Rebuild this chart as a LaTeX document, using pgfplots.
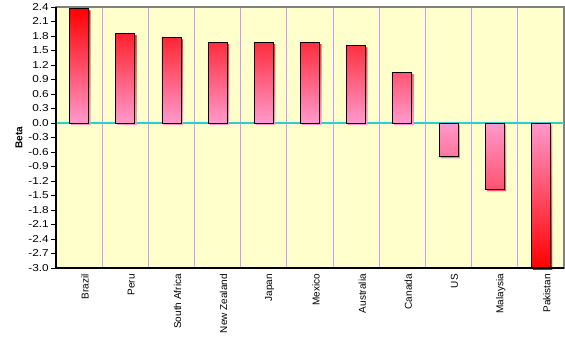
\documentclass[border=0pt]{standalone}
\usepackage{fontspec}
\setmainfont{Liberation Sans}
\newfontfamily\numfont{Liberation Sans}[FakeStretch=1.18]
\usepackage{pgfplots}
\pgfplotsset{compat=1.18}

\definecolor{plotbg}{HTML}{FFFFCC}
\definecolor{gridpurple}{HTML}{CC99FF}
\definecolor{zeroline}{HTML}{33CCCC}
\definecolor{barpink}{HTML}{FF99CC}
\definecolor{barred}{HTML}{FF0000}
\definecolor{frame}{HTML}{808080}
\definecolor{barshadow}{HTML}{A5A585}

\pgfplotsset{
  betabar/.style={ybar, bar width=19bp, bar shift=0pt, draw=black, line width=0.9pt,
    preaction={fill=barshadow, draw=none, transform canvas={shift={(1.8bp,-1.8bp)}}}},
}

\begin{document}
\begin{tikzpicture}
\useasboundingbox (0,0) rectangle (565bp,338bp);
\begin{axis}[
  at={(56bp,70bp)}, anchor=south west,
  scale only axis, width=508bp, height=261bp,
  xmin=-0.5, xmax=10.5, ymin=-3, ymax=2.4,
  axis background/.style={fill=plotbg},
  axis line style={frame, line width=1.2pt},
  xtick={0,...,10},
  xticklabels={Brazil,Peru,South Africa,New Zealand,Japan,Mexico,Australia,Canada,US,Malaysia,Pakistan},
  xticklabel style={font=\fontsize{10bp}{11bp}\selectfont, rotate=90, anchor=east,
    inner sep=1bp, yshift=-6bp},
  xtick style={draw=none},
  minor xtick={0.5,1.5,...,9.5},
  minor x tick style={draw=none},
  minor x grid style={gridpurple, line width=1bp},
  xminorgrids=true,
  ytick={-3,-2.7,-2.4,-2.1,-1.8,-1.5,-1.2,-0.9,-0.6,-0.3,0,0.3,0.6,0.9,1.2,1.5,1.8,2.1,2.4},
  /pgf/number format/fixed,
  /pgf/number format/fixed zerofill,
  /pgf/number format/precision=1,
  /pgf/number format/assume math mode=true,
  yticklabel style={font=\numfont\fontsize{10bp}{11bp}\selectfont, inner sep=1bp, xshift=-1bp},
  ytick style={black, line width=0.6pt},
  tick align=outside,
  major tick length=5bp,
  ylabel={\textbf{Beta}},
  every axis y label/.style={at={(axis description cs:-0.073,0.5)}, rotate=90, anchor=center,
    font=\fontsize{10bp}{11bp}\selectfont},
  clip=false,
]
% zero line across the plot area, under the bars
\draw[zeroline, line width=1.2pt] (axis cs:-0.5,0) -- (axis cs:10.5,0);
% positive betas: red at the top fading to pink at the zero line
\addplot[betabar, top color=barred, bottom color=barpink]
  coordinates {(0,2.37) (1,1.855) (2,1.77) (3,1.67) (4,1.67) (5,1.67) (6,1.60) (7,1.05)};
% negative betas: pink at the zero line deepening to red at the bottom
\addplot[betabar, top color=barpink, bottom color=barred]
  coordinates {(8,-0.69) (9,-1.37) (10,-3.0)};
% left and bottom axis lines in black over the grey frame
\draw[black, line width=1.2pt] (rel axis cs:0,1) -- (rel axis cs:0,0) -- (rel axis cs:1,0);
\end{axis}
\end{tikzpicture}
\end{document}
